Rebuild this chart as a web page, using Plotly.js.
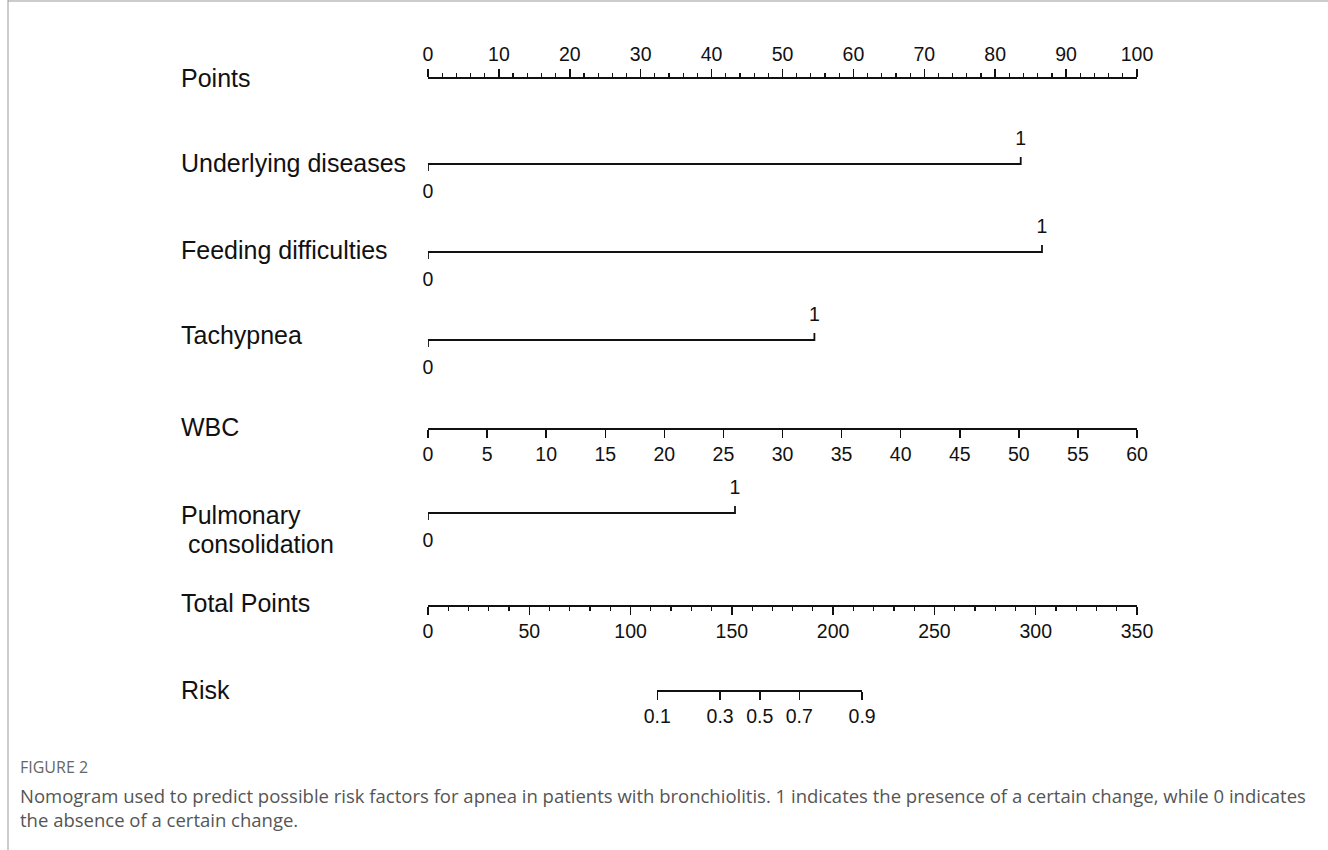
<!DOCTYPE html>
<html>
<head>
<meta charset="utf-8">
<script src="https://cdn.plot.ly/plotly-3.0.1.min.js"></script>
<style>html,body{margin:0;padding:0;background:#fff;}#chart{width:1328px;height:850px;}</style>
</head>
<body>
<div id="chart"></div>
<script>
// ---------- data ----------
const variableNames = ['Underlying diseases', 'Feeding difficulties', 'Tachypnea', 'Pulmonary<br> consolidation'];
const variableLevels = ['0', '1'];
const pointsAtLevel1 = [83.6, 86.6, 54.5, 43.3];      // points for level "1" (level "0" = 0 points)
const pointsTicks = [0, 10, 20, 30, 40, 50, 60, 70, 80, 90, 100];
const wbcTicks = [0, 5, 10, 15, 20, 25, 30, 35, 40, 45, 50, 55, 60];
const wbcRange = [0, 60];                              // WBC 0..60 -> 0..100 points
const totalPointsTicks = [0, 50, 100, 150, 200, 250, 300, 350];
const totalPointsRange = [0, 350];
const riskLabels = ['0.1', '0.3', '0.5', '0.7', '0.9'];
const riskTotalPoints = [113.2, 144.2, 163.8, 183.3, 214.3];

// ---------- layout constants ----------
const W = 1328, H = 850;
const X0 = 428, X1 = 1137;
const dom = [X0 / W, X1 / W];
const rowY = {points: 77, cats: [164, 252, 340, 513], wbc: 428, total: 605, risk: 690};
const labelY = {points: 78, cats: [163, 250, 335, 529], wbc: 427, total: 603, risk: 690};
const labelX = 179 / W;
const ink = '#111';
const labFont = {family: 'Liberation Sans, Arial, sans-serif', size: 25, color: ink};
const tickFont = {family: 'Liberation Sans, Arial, sans-serif', size: 19.5, color: ink};
const LW = 1.8;

const traces = [];
const annotations = [];

// categorical rows: polyline  (0 tick down) -- line -- (1 tick up)
variableNames.forEach((name, i) => {
  const y = rowY.cats[i];
  const p = pointsAtLevel1[i];
  traces.push({
    type: 'scatter', mode: 'lines', xaxis: 'x', yaxis: 'y', cliponaxis: false,
    x: [0, 0, p, p], y: [y + 7, y, y, y - 7],
    line: {color: ink, width: LW}, hoverinfo: 'skip', showlegend: false
  });
  traces.push({
    type: 'scatter', mode: 'text', xaxis: 'x', yaxis: 'y', cliponaxis: false,
    x: [0, p], y: [y + 29, y - 24], text: variableLevels,
    textfont: tickFont, textposition: 'middle center',
    hoverinfo: 'skip', showlegend: false
  });
});

// dummy traces so each axis is attached
['x2', 'x3', 'x4', 'x5'].forEach(ax => traces.push({type: 'scatter', x: [], y: [], xaxis: ax, yaxis: 'y', showlegend: false, hoverinfo: 'skip'}));

// row labels
const rowNames = ['Points', ...variableNames.slice(0, 3), 'WBC', variableNames[3], 'Total Points', 'Risk'];
const rowLabelY = [labelY.points, labelY.cats[0], labelY.cats[1], labelY.cats[2], labelY.wbc, labelY.cats[3], labelY.total, labelY.risk];
rowNames.forEach((t, i) => {
  const lines = t.split('<br>');
  lines.forEach((ln, k) => annotations.push({
    xref: 'paper', yref: 'paper', x: labelX,
    y: 1 - (rowLabelY[i] + (k - (lines.length - 1) / 2) * 29) / H,
    xanchor: 'left', yanchor: 'middle', align: 'left', text: ln.replace(/^ /, '&nbsp;'), showarrow: false, font: labFont
  }));
});

// caption
const capFont = {family: 'Open Sans, Noto Sans, sans-serif', size: 18.5, color: '#555'};
annotations.push({xref: 'paper', yref: 'paper', x: 18 / W, y: 1 - 767 / H, xanchor: 'left', yanchor: 'middle',
  text: 'FIGURE 2', showarrow: false, font: {family: 'Open Sans, Noto Sans, sans-serif', size: 16, color: '#666'}});
annotations.push({xref: 'paper', yref: 'paper', x: 18 / W, y: 1 - 795 / H, xanchor: 'left', yanchor: 'middle',
  text: 'Nomogram used to predict possible risk factors for apnea in patients with bronchiolitis. 1 indicates the presence of a certain change, while 0 indicates', showarrow: false, font: capFont});
annotations.push({xref: 'paper', yref: 'paper', x: 18 / W, y: 1 - 819 / H, xanchor: 'left', yanchor: 'middle',
  text: 'the absence of a certain change.', showarrow: false, font: capFont});

function axis(extra) {
  return Object.assign({
    anchor: 'free', domain: dom, showline: true, linecolor: ink, linewidth: LW,
    ticks: 'outside', ticklen: 8, tickwidth: 1.5, tickcolor: ink, tickfont: tickFont,
    showgrid: false, zeroline: false, fixedrange: true, autorange: false
  }, extra);
}

const rDom = [
  dom[0] + (riskTotalPoints[0] - totalPointsRange[0]) / (totalPointsRange[1] - totalPointsRange[0]) * (dom[1] - dom[0]),
  dom[0] + (riskTotalPoints[riskTotalPoints.length - 1] - totalPointsRange[0]) / (totalPointsRange[1] - totalPointsRange[0]) * (dom[1] - dom[0])
];

const layout = {
  width: W, height: H, margin: {l: 0, r: 0, t: 0, b: 0},
  paper_bgcolor: '#fff', plot_bgcolor: 'rgba(0,0,0,0)', showlegend: false,
  xaxis: {domain: dom, range: [0, 100], visible: false, fixedrange: true},
  yaxis: {domain: [0, 1], range: [H, 0], visible: false, fixedrange: true},
  xaxis2: axis({overlaying: 'x', position: 1 - rowY.points / H, side: 'top', range: [0, 100],
    tickmode: 'array', tickvals: pointsTicks,
    minor: {dtick: 2, ticklen: 4, tickwidth: 1.2, tickcolor: ink, ticks: 'outside'}}),
  xaxis3: axis({overlaying: 'x', position: 1 - rowY.wbc / H, side: 'bottom', range: wbcRange,
    tickmode: 'array', tickvals: wbcTicks}),
  xaxis4: axis({overlaying: 'x', position: 1 - rowY.total / H, side: 'bottom', range: totalPointsRange,
    tickmode: 'array', tickvals: totalPointsTicks,
    minor: {dtick: 10, ticklen: 4, tickwidth: 1.2, tickcolor: ink, ticks: 'outside'}}),
  xaxis5: axis({position: 1 - rowY.risk / H, side: 'bottom', domain: rDom,
    range: [riskTotalPoints[0], riskTotalPoints[riskTotalPoints.length - 1]],
    tickmode: 'array', tickvals: riskTotalPoints, ticktext: riskLabels}),
  annotations: annotations,
  shapes: [
    {type: 'line', xref: 'paper', yref: 'paper', x0: 8 / W, x1: 8 / W, y0: 0, y1: 1, line: {color: '#999', width: 1}},
    {type: 'line', xref: 'paper', yref: 'paper', x0: 8 / W, x1: 1, y0: 1 - 1 / H, y1: 1 - 1 / H, line: {color: '#999', width: 1}}
  ]
};

Plotly.newPlot('chart', traces, layout, {staticPlot: true, displayModeBar: false});
</script>
</body>
</html>
